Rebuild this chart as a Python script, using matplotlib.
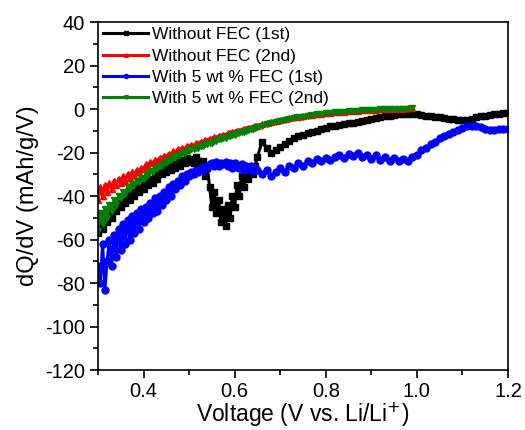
import numpy as np
import matplotlib
matplotlib.use("Agg")
import matplotlib.pyplot as plt
from matplotlib.ticker import MultipleLocator

plt.rcParams['font.family'] = ['Liberation Sans', 'DejaVu Sans']
plt.rcParams['axes.unicode_minus'] = False

# voltage grids: fine steps in the noisy low-voltage part, coarse above 0.65 V
v_fine = np.round(np.arange(0.300, 0.6475, 0.005), 3)
v_coarse = np.round(np.arange(0.65, 1.2025, 0.01), 2)

# Without FEC, 1st cycle
noFEC_1st = [
    -57, -53, -55, -49, -52, -47, -50, -45, -47, -43,
    -45, -42, -43, -40, -42, -38, -40, -36, -38, -35,
    -37, -34, -35, -32, -34, -30, -32, -29, -30, -27.5,
    -29, -26.5, -28, -25.5, -27, -24.5, -26, -23.5, -25, -22.5,
    -24.5, -23, -25, -22, -24, -26, -24, -31, -27, -36,
    -45, -38, -48, -42, -52, -46, -54, -44, -50, -40,
    -45, -35, -40, -31, -36, -30, -32, -28, -30, -26,
    -22, -15, -18, -20, -19, -17.5, -16, -14.5, -13.5, -12.5,
    -12, -11, -10.5, -10, -9.3, -8.5, -8, -7.6, -7.3, -7,
    -6.5, -6.2, -5.8, -5.4, -5, -4.6, -4.2, -3.8, -3.4, -3,
    -2.7, -2.5, -2.3, -2.2, -2.3, -2.5, -2.7, -3, -3.3, -3.6,
    -3.8, -4.1, -4.4, -4.7, -5, -5.2, -5.2, -4.6, -3.9, -3.4,
    -3, -2.7, -2.4, -2.1, -1.9, -1.8,
]

# Without FEC, 2nd cycle (ends at 0.99 V)
noFEC_2nd = [
    -42, -36, -40, -35, -38, -34, -37, -33, -35, -32,
    -34, -31, -33, -30, -31.5, -29, -30.5, -28, -29, -27,
    -27.5, -25.5, -26.5, -24.5, -25, -23.5, -24, -22.5, -23, -21.5,
    -22, -20.5, -21, -19.5, -20, -18.5, -19, -18, -18.5, -17,
    -17.5, -16.5, -16.8, -15.8, -16, -15, -15.2, -14.3, -14.5, -13.6,
    -13.8, -13, -13.2, -12.4, -12.5, -11.8, -11.8, -11.2, -11.2, -10.6,
    -10.5, -10, -10, -9.5, -9.4, -9, -8.9, -8.5, -8.4, -8,
    -7.6, -7, -6.5, -6, -5.5, -5, -4.6, -4.2, -3.8, -3.5,
    -3.2, -2.9, -2.6, -2.4, -2.1, -1.9, -1.7, -1.5, -1.3, -1.2,
    -1.0, -0.9, -0.8, -0.6, -0.5, -0.4, -0.3, -0.2, -0.1, 0,
    0.1, 0.2, 0.2, 0.3, 0.4,
]

# With 5 wt % FEC, 1st cycle
FEC_1st = [
    -72, -80, -62, -83, -70, -60, -72, -58, -68, -55,
    -65, -53, -62, -51, -60, -49, -57, -48, -55, -46,
    -52, -45, -50, -43, -48, -41, -47, -40, -44, -38,
    -42, -36, -40, -34.5, -37, -33, -35, -31, -33, -30,
    -31, -29, -30, -28, -29, -27, -28, -26.5, -27, -25.5,
    -25, -26, -24.5, -26, -25, -25.5, -24.5, -26, -25, -27,
    -25, -26.5, -27, -25.5, -28, -26, -27.5, -26, -28.5, -27,
    -28, -30, -28, -31, -29, -27, -29, -26, -27, -25,
    -26, -24, -25, -23, -24, -22.5, -23.5, -22, -21, -22.5,
    -20.5, -21.5, -20, -22, -21, -23, -21, -23.5, -22, -24,
    -22.5, -24, -23, -24, -22, -21, -19, -18, -16, -15,
    -13.5, -12.5, -11.5, -10.5, -9.5, -8.5, -8, -7.8, -8, -8.2,
    -9, -9.5, -9.5, -9.3, -9, -9,
]

# With 5 wt % FEC, 2nd cycle (ends at 0.99 V)
FEC_2nd = [
    -56, -48, -53, -46, -50, -44, -47, -42, -44, -40,
    -41, -38, -39, -36, -37, -34.5, -35, -33, -33.5, -31.5,
    -32, -30, -30.5, -28.5, -29, -27, -27.5, -26, -26, -24.5,
    -25, -23.5, -23.5, -22.2, -22.5, -21.2, -21.3, -20.2, -20.3, -19.3,
    -19.5, -18.5, -18.6, -17.8, -17.8, -17, -17, -16.3, -16.2, -15.5,
    -15.5, -14.8, -14.8, -14, -14, -13.3, -13.2, -12.6, -12.5, -11.9,
    -11.8, -11.2, -11.1, -10.5, -10.4, -9.9, -9.7, -9.2, -9, -8.6,
    -8.2, -7.6, -7, -6.5, -6, -5.5, -5, -4.6, -4.2, -3.8,
    -3.5, -3.1, -2.8, -2.5, -2.2, -2, -1.8, -1.6, -1.4, -1.2,
    -1.1, -0.9, -0.8, -0.6, -0.5, -0.4, -0.3, -0.2, -0.1, 0,
    0, 0.1, 0.1, 0.2, 0.3,
]

v_full = np.concatenate([v_fine, v_coarse])
v_short = v_full[:len(noFEC_2nd)]

fig = plt.figure(figsize=(5.25, 4.3), dpi=100)
ax = fig.add_axes([0.1867, 0.1395, 0.7809, 0.8093])

ax.plot(v_full, noFEC_1st, color='black', marker='s', ms=4.5, lw=2.2,
        label='Without FEC (1st)')
ax.plot(v_short, noFEC_2nd, color='red', marker='^', ms=4.5, lw=2.2,
        label='Without FEC (2nd)')
ax.plot(v_full, FEC_1st, color='blue', marker='o', ms=5, lw=2.2,
        label='With 5 wt % FEC (1st)')
ax.plot(v_short, FEC_2nd, color='green', marker='v', ms=4.5, lw=2.2,
        label='With 5 wt % FEC (2nd)')

ax.set_xlim(0.3, 1.2)
ax.set_ylim(-120, 40)
ax.xaxis.set_minor_locator(MultipleLocator(0.1))
ax.yaxis.set_major_locator(MultipleLocator(20))
ax.yaxis.set_minor_locator(MultipleLocator(10))
ax.set_xticks([0.4, 0.6, 0.8, 1.0, 1.2])
ax.tick_params(which='major', direction='out', length=6, width=1.2, labelsize=14.5)
ax.tick_params(axis='x', which='major', pad=2.5)
ax.tick_params(which='minor', direction='out', length=3.5, width=1.2)
for s in ax.spines.values():
    s.set_linewidth(1.2)

ax.set_xlabel('Voltage (V vs. Li/Li$^{+}$)', fontsize=16.5, labelpad=0)
ax.set_ylabel('dQ/dV (mAh/g/V)', fontsize=17, labelpad=4)

leg = ax.legend(loc='upper left', frameon=False, fontsize=12.5, handlelength=2.6,
                handletextpad=0.2, labelspacing=0.35, borderaxespad=0.0,
                borderpad=0.3, markerscale=0.6)

fig.savefig('out.png', dpi=100)
